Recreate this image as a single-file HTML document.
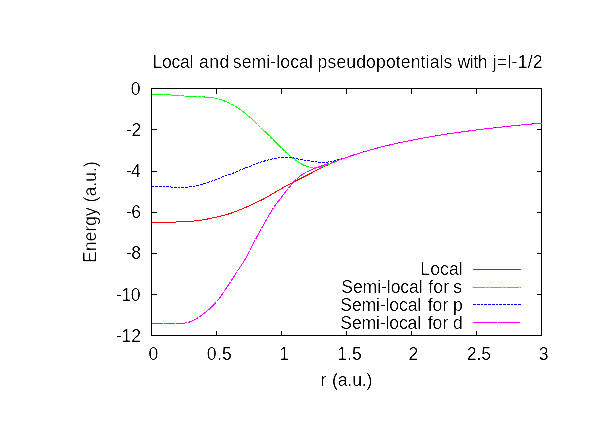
<!DOCTYPE html>
<html><head><meta charset="utf-8"><title>Local and semi-local pseudopotentials</title>
<style>
html,body{margin:0;padding:0;background:#fff;overflow:hidden;}
svg{display:block;}
text{font-family:"Liberation Sans", sans-serif;font-size:17.6px;fill:#000;filter:url(#tf);}
.ax{stroke:#000;stroke-width:1;fill:none;shape-rendering:crispEdges;}
.c{fill:none;stroke-width:1;shape-rendering:crispEdges;stroke-linejoin:round;}
</style></head><body>
<svg width="612" height="428" viewBox="0 0 612 428">
<defs><filter id="tf" x="-5%" y="-20%" width="110%" height="140%" color-interpolation-filters="sRGB"><feComponentTransfer><feFuncA type="linear" slope="2.5" intercept="-1.0"/></feComponentTransfer></filter></defs>
<rect width="612" height="428" fill="#fff"/>
<path class="ax" d="M151.5,88.5h5M541.5,88.5h-5M151.5,335.5v-5M151.5,88.5v5M151.5,129.5h5M541.5,129.5h-5M216.5,335.5v-5M216.5,88.5v5M151.5,171.5h5M541.5,171.5h-5M281.5,335.5v-5M281.5,88.5v5M151.5,212.5h5M541.5,212.5h-5M346.5,335.5v-5M346.5,88.5v5M151.5,253.5h5M541.5,253.5h-5M411.5,335.5v-5M411.5,88.5v5M151.5,294.5h5M541.5,294.5h-5M476.5,335.5v-5M476.5,88.5v5M151.5,335.5h5M541.5,335.5h-5M541.5,335.5v-5M541.5,88.5v5"/>
<rect class="ax" x="151.5" y="88.5" width="390.0" height="247.0"/>
<polyline class="c" stroke="#f00" points="151.5,222.40 152.5,222.40 153.5,222.40 154.5,222.39 155.5,222.39 156.5,222.38 157.5,222.37 158.5,222.36 159.5,222.35 160.5,222.33 161.5,222.32 162.5,222.30 163.5,222.29 164.5,222.27 165.5,222.25 166.5,222.23 167.5,222.21 168.5,222.19 169.5,222.17 170.5,222.15 171.5,222.13 172.5,222.11 173.5,222.09 174.5,222.06 175.5,222.03 176.5,222.00 177.5,221.96 178.5,221.92 179.5,221.88 180.5,221.84 181.5,221.79 182.5,221.74 183.5,221.69 184.5,221.63 185.5,221.57 186.5,221.51 187.5,221.45 188.5,221.38 189.5,221.32 190.5,221.25 191.5,221.17 192.5,221.10 193.5,221.02 194.5,220.93 195.5,220.82 196.5,220.71 197.5,220.58 198.5,220.46 199.5,220.32 200.5,220.18 201.5,220.03 202.5,219.89 203.5,219.73 204.5,219.56 205.5,219.39 206.5,219.20 207.5,219.01 208.5,218.81 209.5,218.60 210.5,218.39 211.5,218.18 212.5,217.96 213.5,217.74 214.5,217.52 215.5,217.30 216.5,217.08 217.5,216.86 218.5,216.63 219.5,216.40 220.5,216.17 221.5,215.93 222.5,215.68 223.5,215.43 224.5,215.17 225.5,214.90 226.5,214.62 227.5,214.32 228.5,214.01 229.5,213.69 230.5,213.35 231.5,213.01 232.5,212.65 233.5,212.28 234.5,211.90 235.5,211.52 236.5,211.14 237.5,210.75 238.5,210.36 239.5,209.97 240.5,209.56 241.5,209.15 242.5,208.73 243.5,208.30 244.5,207.87 245.5,207.43 246.5,206.99 247.5,206.54 248.5,206.09 249.5,205.64 250.5,205.18 251.5,204.73 252.5,204.27 253.5,203.81 254.5,203.34 255.5,202.87 256.5,202.40 257.5,201.92 258.5,201.44 259.5,200.95 260.5,200.46 261.5,199.96 262.5,199.46 263.5,198.95 264.5,198.43 265.5,197.90 266.5,197.36 267.5,196.80 268.5,196.23 269.5,195.65 270.5,195.06 271.5,194.46 272.5,193.86 273.5,193.25 274.5,192.64 275.5,192.04 276.5,191.44 277.5,190.84 278.5,190.26 279.5,189.68 280.5,189.12 281.5,188.56 282.5,188.01 283.5,187.47 284.5,186.93 285.5,186.39 286.5,185.85 287.5,185.32 288.5,184.79 289.5,184.26 290.5,183.73 291.5,183.20 292.5,182.67 293.5,182.15 294.5,181.62 295.5,181.10 296.5,180.58 297.5,180.06 298.5,179.54 299.5,179.03 300.5,178.52 301.5,178.01 302.5,177.50 303.5,177.00 304.5,176.51 305.5,176.02 306.5,175.54 307.5,175.05 308.5,174.56 309.5,174.06 310.5,173.54 311.5,173.01 312.5,172.46 313.5,171.90 314.5,171.34 315.5,170.78 316.5,170.23 317.5,169.68 318.5,169.16 319.5,168.65 320.5,168.16 321.5,167.69 322.5,167.24 323.5,166.79 324.5,166.35 325.5,165.92 326.5,165.48 327.5,165.04 328.5,164.60 329.5,164.16 330.5,163.72 331.5,163.28 332.5,162.85 333.5,162.41 334.5,161.98 335.5,161.56 336.5,161.15 337.5,160.74 338.5,160.34 339.5,159.96 340.5,159.59 341.5,159.22 342.5,158.85 343.5,158.48 344.5,158.12 345.5,157.76 346.5,157.41 347.5,157.06 348.5,156.71 349.5,156.37 350.5,156.03 351.5,155.70 352.5,155.36 353.5,155.03 354.5,154.71 355.5,154.38 356.5,154.06 357.5,153.75 358.5,153.43 359.5,153.12 360.5,152.82 361.5,152.51 362.5,152.21 363.5,151.91 364.5,151.61 365.5,151.32 366.5,151.03 367.5,150.74 368.5,150.46 369.5,150.17 370.5,149.89 371.5,149.61 372.5,149.34 373.5,149.07 374.5,148.80 375.5,148.53 376.5,148.26 377.5,148.00 378.5,147.74 379.5,147.48 380.5,147.22 381.5,146.97 382.5,146.72 383.5,146.47 384.5,146.22 385.5,145.98 386.5,145.73 387.5,145.49 388.5,145.25 389.5,145.01 390.5,144.78 391.5,144.55 392.5,144.32 393.5,144.09 394.5,143.86 395.5,143.63 396.5,143.41 397.5,143.19 398.5,142.97 399.5,142.75 400.5,142.53 401.5,142.32 402.5,142.10 403.5,141.89 404.5,141.68 405.5,141.47 406.5,141.27 407.5,141.06 408.5,140.86 409.5,140.66 410.5,140.46 411.5,140.26 412.5,140.06 413.5,139.87 414.5,139.67 415.5,139.48 416.5,139.29 417.5,139.10 418.5,138.91 419.5,138.72 420.5,138.54 421.5,138.35 422.5,138.17 423.5,137.99 424.5,137.81 425.5,137.63 426.5,137.45 427.5,137.28 428.5,137.10 429.5,136.93 430.5,136.75 431.5,136.58 432.5,136.41 433.5,136.24 434.5,136.08 435.5,135.91 436.5,135.74 437.5,135.58 438.5,135.42 439.5,135.26 440.5,135.09 441.5,134.93 442.5,134.78 443.5,134.62 444.5,134.46 445.5,134.31 446.5,134.15 447.5,134.00 448.5,133.85 449.5,133.70 450.5,133.55 451.5,133.40 452.5,133.25 453.5,133.10 454.5,132.96 455.5,132.81 456.5,132.67 457.5,132.52 458.5,132.38 459.5,132.24 460.5,132.10 461.5,131.96 462.5,131.82 463.5,131.68 464.5,131.54 465.5,131.41 466.5,131.27 467.5,131.14 468.5,131.01 469.5,130.87 470.5,130.74 471.5,130.61 472.5,130.48 473.5,130.35 474.5,130.22 475.5,130.09 476.5,129.97 477.5,129.84 478.5,129.71 479.5,129.59 480.5,129.47 481.5,129.34 482.5,129.22 483.5,129.10 484.5,128.98 485.5,128.86 486.5,128.74 487.5,128.62 488.5,128.50 489.5,128.38 490.5,128.27 491.5,128.15 492.5,128.04 493.5,127.92 494.5,127.81 495.5,127.69 496.5,127.58 497.5,127.47 498.5,127.36 499.5,127.25 500.5,127.14 501.5,127.03 502.5,126.92 503.5,126.81 504.5,126.70 505.5,126.59 506.5,126.49 507.5,126.38 508.5,126.28 509.5,126.17 510.5,126.07 511.5,125.96 512.5,125.86 513.5,125.76 514.5,125.66 515.5,125.56 516.5,125.46 517.5,125.36 518.5,125.26 519.5,125.16 520.5,125.06 521.5,124.96 522.5,124.86 523.5,124.77 524.5,124.67 525.5,124.57 526.5,124.48 527.5,124.38 528.5,124.29 529.5,124.19 530.5,124.10 531.5,124.01 532.5,123.92 533.5,123.82 534.5,123.73 535.5,123.64 536.5,123.55 537.5,123.46 538.5,123.37 539.5,123.28 540.5,123.19 541.5,123.11"/>
<polyline class="c" stroke="#0f0" stroke-dasharray="12 1 3 1" points="151.5,94.60 152.5,94.60 153.5,94.61 154.5,94.61 155.5,94.62 156.5,94.64 157.5,94.65 158.5,94.67 159.5,94.69 160.5,94.71 161.5,94.74 162.5,94.76 163.5,94.79 164.5,94.82 165.5,94.84 166.5,94.87 167.5,94.91 168.5,94.94 169.5,94.97 170.5,95.00 171.5,95.04 172.5,95.09 173.5,95.15 174.5,95.21 175.5,95.28 176.5,95.36 177.5,95.44 178.5,95.52 179.5,95.60 180.5,95.68 181.5,95.76 182.5,95.83 183.5,95.90 184.5,95.97 185.5,96.03 186.5,96.08 187.5,96.14 188.5,96.19 189.5,96.24 190.5,96.28 191.5,96.33 192.5,96.37 193.5,96.42 194.5,96.46 195.5,96.50 196.5,96.55 197.5,96.60 198.5,96.65 199.5,96.70 200.5,96.75 201.5,96.81 202.5,96.87 203.5,96.94 204.5,97.01 205.5,97.08 206.5,97.17 207.5,97.26 208.5,97.36 209.5,97.46 210.5,97.58 211.5,97.70 212.5,97.82 213.5,97.96 214.5,98.10 215.5,98.26 216.5,98.45 217.5,98.65 218.5,98.88 219.5,99.13 220.5,99.44 221.5,99.79 222.5,100.18 223.5,100.60 224.5,101.03 225.5,101.48 226.5,101.92 227.5,102.37 228.5,102.82 229.5,103.28 230.5,103.76 231.5,104.25 232.5,104.77 233.5,105.30 234.5,105.86 235.5,106.44 236.5,107.05 237.5,107.70 238.5,108.39 239.5,109.09 240.5,109.81 241.5,110.55 242.5,111.30 243.5,112.05 244.5,112.81 245.5,113.59 246.5,114.39 247.5,115.20 248.5,116.03 249.5,116.87 250.5,117.74 251.5,118.62 252.5,119.53 253.5,120.47 254.5,121.42 255.5,122.39 256.5,123.37 257.5,124.36 258.5,125.35 259.5,126.34 260.5,127.32 261.5,128.30 262.5,129.27 263.5,130.24 264.5,131.21 265.5,132.19 266.5,133.16 267.5,134.14 268.5,135.12 269.5,136.10 270.5,137.07 271.5,138.05 272.5,139.04 273.5,140.02 274.5,141.00 275.5,141.99 276.5,142.98 277.5,143.98 278.5,144.98 279.5,145.97 280.5,146.96 281.5,147.94 282.5,148.91 283.5,149.87 284.5,150.84 285.5,151.81 286.5,152.77 287.5,153.72 288.5,154.64 289.5,155.53 290.5,156.38 291.5,157.18 292.5,157.94 293.5,158.68 294.5,159.39 295.5,160.08 296.5,160.75 297.5,161.40 298.5,162.05 299.5,162.71 300.5,163.36 301.5,163.97 302.5,164.53 303.5,165.00 304.5,165.39 305.5,165.76 306.5,166.13 307.5,166.47 308.5,166.77 309.5,167.03 310.5,167.23 311.5,167.36 312.5,167.41 313.5,167.43 314.5,167.45 315.5,167.47 316.5,167.49 317.5,167.49 318.5,167.50 319.5,167.46 320.5,167.22 321.5,166.85 322.5,166.50 323.5,166.20 324.5,165.91 325.5,165.60 326.5,165.27 327.5,164.92 328.5,164.54 329.5,164.14 330.5,163.72 331.5,163.31 332.5,162.90 333.5,162.48 334.5,162.06 335.5,161.63 336.5,161.21 337.5,160.79 338.5,160.38 339.5,159.97 340.5,159.59 341.5,159.22 342.5,158.85 343.5,158.48 344.5,158.12 345.5,157.76 346.5,157.41 347.5,157.06 348.5,156.71 349.5,156.37 350.5,156.03 351.5,155.70 352.5,155.36 353.5,155.03 354.5,154.71 355.5,154.38 356.5,154.06 357.5,153.75 358.5,153.43 359.5,153.12 360.5,152.82 361.5,152.51 362.5,152.21 363.5,151.91 364.5,151.61 365.5,151.32 366.5,151.03 367.5,150.74 368.5,150.46 369.5,150.17 370.5,149.89 371.5,149.61 372.5,149.34 373.5,149.07 374.5,148.80 375.5,148.53 376.5,148.26 377.5,148.00 378.5,147.74 379.5,147.48 380.5,147.22 381.5,146.97 382.5,146.72 383.5,146.47 384.5,146.22 385.5,145.98 386.5,145.73 387.5,145.49 388.5,145.25 389.5,145.01 390.5,144.78 391.5,144.55 392.5,144.32 393.5,144.09 394.5,143.86 395.5,143.63 396.5,143.41 397.5,143.19 398.5,142.97 399.5,142.75 400.5,142.53 401.5,142.32 402.5,142.10 403.5,141.89 404.5,141.68 405.5,141.47 406.5,141.27 407.5,141.06 408.5,140.86 409.5,140.66 410.5,140.46 411.5,140.26 412.5,140.06 413.5,139.87 414.5,139.67 415.5,139.48 416.5,139.29 417.5,139.10 418.5,138.91 419.5,138.72 420.5,138.54 421.5,138.35 422.5,138.17 423.5,137.99 424.5,137.81 425.5,137.63 426.5,137.45 427.5,137.28 428.5,137.10 429.5,136.93 430.5,136.75 431.5,136.58 432.5,136.41 433.5,136.24 434.5,136.08 435.5,135.91 436.5,135.74 437.5,135.58 438.5,135.42 439.5,135.26 440.5,135.09 441.5,134.93 442.5,134.78 443.5,134.62 444.5,134.46 445.5,134.31 446.5,134.15 447.5,134.00 448.5,133.85 449.5,133.70 450.5,133.55 451.5,133.40 452.5,133.25 453.5,133.10 454.5,132.96 455.5,132.81 456.5,132.67 457.5,132.52 458.5,132.38 459.5,132.24 460.5,132.10 461.5,131.96 462.5,131.82 463.5,131.68 464.5,131.54 465.5,131.41 466.5,131.27 467.5,131.14 468.5,131.01 469.5,130.87 470.5,130.74 471.5,130.61 472.5,130.48 473.5,130.35 474.5,130.22 475.5,130.09 476.5,129.97 477.5,129.84 478.5,129.71 479.5,129.59 480.5,129.47 481.5,129.34 482.5,129.22 483.5,129.10 484.5,128.98 485.5,128.86 486.5,128.74 487.5,128.62 488.5,128.50 489.5,128.38 490.5,128.27 491.5,128.15 492.5,128.04 493.5,127.92 494.5,127.81 495.5,127.69 496.5,127.58 497.5,127.47 498.5,127.36 499.5,127.25 500.5,127.14 501.5,127.03 502.5,126.92 503.5,126.81 504.5,126.70 505.5,126.59 506.5,126.49 507.5,126.38 508.5,126.28 509.5,126.17 510.5,126.07 511.5,125.96 512.5,125.86 513.5,125.76 514.5,125.66 515.5,125.56 516.5,125.46 517.5,125.36 518.5,125.26 519.5,125.16 520.5,125.06 521.5,124.96 522.5,124.86 523.5,124.77 524.5,124.67 525.5,124.57 526.5,124.48 527.5,124.38 528.5,124.29 529.5,124.19 530.5,124.10 531.5,124.01 532.5,123.92 533.5,123.82 534.5,123.73 535.5,123.64 536.5,123.55 537.5,123.46 538.5,123.37 539.5,123.28 540.5,123.19 541.5,123.11"/>
<polyline class="c" stroke="#00f" stroke-dasharray="2.75 1" points="151.5,186.30 152.5,186.30 153.5,186.30 154.5,186.30 155.5,186.31 156.5,186.31 157.5,186.32 158.5,186.32 159.5,186.33 160.5,186.34 161.5,186.34 162.5,186.35 163.5,186.36 164.5,186.38 165.5,186.39 166.5,186.40 167.5,186.45 168.5,186.56 169.5,186.70 170.5,186.85 171.5,187.01 172.5,187.15 173.5,187.25 174.5,187.30 175.5,187.32 176.5,187.33 177.5,187.35 178.5,187.36 179.5,187.37 180.5,187.38 181.5,187.39 182.5,187.40 183.5,187.40 184.5,187.40 185.5,187.37 186.5,187.29 187.5,187.18 188.5,187.04 189.5,186.89 190.5,186.72 191.5,186.56 192.5,186.40 193.5,186.25 194.5,186.09 195.5,185.92 196.5,185.74 197.5,185.54 198.5,185.33 199.5,185.11 200.5,184.85 201.5,184.57 202.5,184.27 203.5,183.96 204.5,183.63 205.5,183.30 206.5,182.96 207.5,182.63 208.5,182.30 209.5,181.96 210.5,181.62 211.5,181.27 212.5,180.91 213.5,180.55 214.5,180.18 215.5,179.80 216.5,179.41 217.5,179.00 218.5,178.59 219.5,178.16 220.5,177.74 221.5,177.33 222.5,176.92 223.5,176.54 224.5,176.17 225.5,175.83 226.5,175.50 227.5,175.18 228.5,174.85 229.5,174.52 230.5,174.18 231.5,173.81 232.5,173.42 233.5,173.00 234.5,172.56 235.5,172.11 236.5,171.65 237.5,171.19 238.5,170.74 239.5,170.31 240.5,169.90 241.5,169.51 242.5,169.13 243.5,168.76 244.5,168.39 245.5,168.03 246.5,167.66 247.5,167.29 248.5,166.91 249.5,166.52 250.5,166.11 251.5,165.68 252.5,165.22 253.5,164.76 254.5,164.31 255.5,163.86 256.5,163.44 257.5,163.05 258.5,162.70 259.5,162.38 260.5,162.08 261.5,161.79 262.5,161.52 263.5,161.25 264.5,160.99 265.5,160.73 266.5,160.47 267.5,160.21 268.5,159.94 269.5,159.67 270.5,159.41 271.5,159.15 272.5,158.92 273.5,158.70 274.5,158.50 275.5,158.31 276.5,158.11 277.5,157.91 278.5,157.73 279.5,157.57 280.5,157.43 281.5,157.34 282.5,157.30 283.5,157.30 284.5,157.31 285.5,157.33 286.5,157.35 287.5,157.37 288.5,157.41 289.5,157.44 290.5,157.48 291.5,157.54 292.5,157.67 293.5,157.85 294.5,158.08 295.5,158.33 296.5,158.59 297.5,158.85 298.5,159.08 299.5,159.27 300.5,159.46 301.5,159.63 302.5,159.80 303.5,159.97 304.5,160.14 305.5,160.30 306.5,160.47 307.5,160.63 308.5,160.81 309.5,160.99 310.5,161.17 311.5,161.34 312.5,161.51 313.5,161.66 314.5,161.80 315.5,161.90 316.5,161.99 317.5,162.08 318.5,162.16 319.5,162.24 320.5,162.30 321.5,162.35 322.5,162.39 323.5,162.40 324.5,162.38 325.5,162.32 326.5,162.22 327.5,162.10 328.5,161.95 329.5,161.79 330.5,161.62 331.5,161.45 332.5,161.27 333.5,161.05 334.5,160.80 335.5,160.52 336.5,160.23 337.5,159.92 338.5,159.63 339.5,159.34 340.5,159.07 341.5,158.81 342.5,158.55 343.5,158.30 344.5,158.03 345.5,157.74 346.5,157.42 347.5,157.06 348.5,156.71 349.5,156.37 350.5,156.03 351.5,155.70 352.5,155.36 353.5,155.03 354.5,154.71 355.5,154.38 356.5,154.06 357.5,153.75 358.5,153.43 359.5,153.12 360.5,152.82 361.5,152.51 362.5,152.21 363.5,151.91 364.5,151.61 365.5,151.32 366.5,151.03 367.5,150.74 368.5,150.46 369.5,150.17 370.5,149.89 371.5,149.61 372.5,149.34 373.5,149.07 374.5,148.80 375.5,148.53 376.5,148.26 377.5,148.00 378.5,147.74 379.5,147.48 380.5,147.22 381.5,146.97 382.5,146.72 383.5,146.47 384.5,146.22 385.5,145.98 386.5,145.73 387.5,145.49 388.5,145.25 389.5,145.01 390.5,144.78 391.5,144.55 392.5,144.32 393.5,144.09 394.5,143.86 395.5,143.63 396.5,143.41 397.5,143.19 398.5,142.97 399.5,142.75 400.5,142.53 401.5,142.32 402.5,142.10 403.5,141.89 404.5,141.68 405.5,141.47 406.5,141.27 407.5,141.06 408.5,140.86 409.5,140.66 410.5,140.46 411.5,140.26 412.5,140.06 413.5,139.87 414.5,139.67 415.5,139.48 416.5,139.29 417.5,139.10 418.5,138.91 419.5,138.72 420.5,138.54 421.5,138.35 422.5,138.17 423.5,137.99 424.5,137.81 425.5,137.63 426.5,137.45 427.5,137.28 428.5,137.10 429.5,136.93 430.5,136.75 431.5,136.58 432.5,136.41 433.5,136.24 434.5,136.08 435.5,135.91 436.5,135.74 437.5,135.58 438.5,135.42 439.5,135.26 440.5,135.09 441.5,134.93 442.5,134.78 443.5,134.62 444.5,134.46 445.5,134.31 446.5,134.15 447.5,134.00 448.5,133.85 449.5,133.70 450.5,133.55 451.5,133.40 452.5,133.25 453.5,133.10 454.5,132.96 455.5,132.81 456.5,132.67 457.5,132.52 458.5,132.38 459.5,132.24 460.5,132.10 461.5,131.96 462.5,131.82 463.5,131.68 464.5,131.54 465.5,131.41 466.5,131.27 467.5,131.14 468.5,131.01 469.5,130.87 470.5,130.74 471.5,130.61 472.5,130.48 473.5,130.35 474.5,130.22 475.5,130.09 476.5,129.97 477.5,129.84 478.5,129.71 479.5,129.59 480.5,129.47 481.5,129.34 482.5,129.22 483.5,129.10 484.5,128.98 485.5,128.86 486.5,128.74 487.5,128.62 488.5,128.50 489.5,128.38 490.5,128.27 491.5,128.15 492.5,128.04 493.5,127.92 494.5,127.81 495.5,127.69 496.5,127.58 497.5,127.47 498.5,127.36 499.5,127.25 500.5,127.14 501.5,127.03 502.5,126.92 503.5,126.81 504.5,126.70 505.5,126.59 506.5,126.49 507.5,126.38 508.5,126.28 509.5,126.17 510.5,126.07 511.5,125.96 512.5,125.86 513.5,125.76 514.5,125.66 515.5,125.56 516.5,125.46 517.5,125.36 518.5,125.26 519.5,125.16 520.5,125.06 521.5,124.96 522.5,124.86 523.5,124.77 524.5,124.67 525.5,124.57 526.5,124.48 527.5,124.38 528.5,124.29 529.5,124.19 530.5,124.10 531.5,124.01 532.5,123.92 533.5,123.82 534.5,123.73 535.5,123.64 536.5,123.55 537.5,123.46 538.5,123.37 539.5,123.28 540.5,123.19 541.5,123.11"/>
<polyline class="c" stroke="#f0f" stroke-dasharray="11 1.2" points="151.5,323.50 152.5,323.50 153.5,323.50 154.5,323.50 155.5,323.50 156.5,323.50 157.5,323.50 158.5,323.50 159.5,323.50 160.5,323.50 161.5,323.50 162.5,323.50 163.5,323.50 164.5,323.50 165.5,323.50 166.5,323.50 167.5,323.50 168.5,323.50 169.5,323.50 170.5,323.50 171.5,323.50 172.5,323.49 173.5,323.49 174.5,323.48 175.5,323.46 176.5,323.45 177.5,323.43 178.5,323.41 179.5,323.39 180.5,323.36 181.5,323.34 182.5,323.31 183.5,323.25 184.5,323.14 185.5,322.97 186.5,322.77 187.5,322.54 188.5,322.30 189.5,322.01 190.5,321.64 191.5,321.20 192.5,320.72 193.5,320.21 194.5,319.67 195.5,319.14 196.5,318.57 197.5,317.95 198.5,317.31 199.5,316.63 200.5,315.93 201.5,315.21 202.5,314.48 203.5,313.75 204.5,313.01 205.5,312.25 206.5,311.47 207.5,310.66 208.5,309.81 209.5,308.93 210.5,308.01 211.5,307.04 212.5,306.04 213.5,305.00 214.5,303.94 215.5,302.86 216.5,301.75 217.5,300.61 218.5,299.42 219.5,298.16 220.5,296.82 221.5,295.38 222.5,293.86 223.5,292.31 224.5,290.73 225.5,289.17 226.5,287.65 227.5,286.16 228.5,284.67 229.5,283.18 230.5,281.70 231.5,280.20 232.5,278.70 233.5,277.18 234.5,275.65 235.5,274.12 236.5,272.58 237.5,271.04 238.5,269.50 239.5,267.97 240.5,266.45 241.5,264.98 242.5,263.53 243.5,262.05 244.5,260.47 245.5,258.73 246.5,256.80 247.5,254.79 248.5,252.79 249.5,250.86 250.5,248.94 251.5,247.03 252.5,245.12 253.5,243.22 254.5,241.33 255.5,239.44 256.5,237.55 257.5,235.69 258.5,233.83 259.5,232.00 260.5,230.19 261.5,228.38 262.5,226.59 263.5,224.81 264.5,223.05 265.5,221.30 266.5,219.55 267.5,217.79 268.5,216.02 269.5,214.28 270.5,212.56 271.5,210.89 272.5,209.28 273.5,207.75 274.5,206.30 275.5,204.91 276.5,203.58 277.5,202.28 278.5,201.00 279.5,199.71 280.5,198.41 281.5,197.10 282.5,195.80 283.5,194.51 284.5,193.23 285.5,191.95 286.5,190.68 287.5,189.42 288.5,188.18 289.5,186.96 290.5,185.76 291.5,184.57 292.5,183.39 293.5,182.23 294.5,181.12 295.5,180.09 296.5,179.13 297.5,178.21 298.5,177.33 299.5,176.48 300.5,175.68 301.5,174.94 302.5,174.26 303.5,173.64 304.5,173.08 305.5,172.56 306.5,172.08 307.5,171.60 308.5,171.13 309.5,170.68 310.5,170.24 311.5,169.80 312.5,169.38 313.5,168.97 314.5,168.56 315.5,168.15 316.5,167.75 317.5,167.36 318.5,166.98 319.5,166.61 320.5,166.26 321.5,165.92 322.5,165.60 323.5,165.29 324.5,164.97 325.5,164.66 326.5,164.34 327.5,164.03 328.5,163.72 329.5,163.41 330.5,163.11 331.5,162.80 332.5,162.49 333.5,162.17 334.5,161.84 335.5,161.49 336.5,161.13 337.5,160.73 338.5,160.35 339.5,159.97 340.5,159.59 341.5,159.22 342.5,158.85 343.5,158.48 344.5,158.12 345.5,157.76 346.5,157.41 347.5,157.06 348.5,156.71 349.5,156.37 350.5,156.03 351.5,155.70 352.5,155.36 353.5,155.03 354.5,154.71 355.5,154.38 356.5,154.06 357.5,153.75 358.5,153.43 359.5,153.12 360.5,152.82 361.5,152.51 362.5,152.21 363.5,151.91 364.5,151.61 365.5,151.32 366.5,151.03 367.5,150.74 368.5,150.46 369.5,150.17 370.5,149.89 371.5,149.61 372.5,149.34 373.5,149.07 374.5,148.80 375.5,148.53 376.5,148.26 377.5,148.00 378.5,147.74 379.5,147.48 380.5,147.22 381.5,146.97 382.5,146.72 383.5,146.47 384.5,146.22 385.5,145.98 386.5,145.73 387.5,145.49 388.5,145.25 389.5,145.01 390.5,144.78 391.5,144.55 392.5,144.32 393.5,144.09 394.5,143.86 395.5,143.63 396.5,143.41 397.5,143.19 398.5,142.97 399.5,142.75 400.5,142.53 401.5,142.32 402.5,142.10 403.5,141.89 404.5,141.68 405.5,141.47 406.5,141.27 407.5,141.06 408.5,140.86 409.5,140.66 410.5,140.46 411.5,140.26 412.5,140.06 413.5,139.87 414.5,139.67 415.5,139.48 416.5,139.29 417.5,139.10 418.5,138.91 419.5,138.72 420.5,138.54 421.5,138.35 422.5,138.17 423.5,137.99 424.5,137.81 425.5,137.63 426.5,137.45 427.5,137.28 428.5,137.10 429.5,136.93 430.5,136.75 431.5,136.58 432.5,136.41 433.5,136.24 434.5,136.08 435.5,135.91 436.5,135.74 437.5,135.58 438.5,135.42 439.5,135.26 440.5,135.09 441.5,134.93 442.5,134.78 443.5,134.62 444.5,134.46 445.5,134.31 446.5,134.15 447.5,134.00 448.5,133.85 449.5,133.70 450.5,133.55 451.5,133.40 452.5,133.25 453.5,133.10 454.5,132.96 455.5,132.81 456.5,132.67 457.5,132.52 458.5,132.38 459.5,132.24 460.5,132.10 461.5,131.96 462.5,131.82 463.5,131.68 464.5,131.54 465.5,131.41 466.5,131.27 467.5,131.14 468.5,131.01 469.5,130.87 470.5,130.74 471.5,130.61 472.5,130.48 473.5,130.35 474.5,130.22 475.5,130.09 476.5,129.97 477.5,129.84 478.5,129.71 479.5,129.59 480.5,129.47 481.5,129.34 482.5,129.22 483.5,129.10 484.5,128.98 485.5,128.86 486.5,128.74 487.5,128.62 488.5,128.50 489.5,128.38 490.5,128.27 491.5,128.15 492.5,128.04 493.5,127.92 494.5,127.81 495.5,127.69 496.5,127.58 497.5,127.47 498.5,127.36 499.5,127.25 500.5,127.14 501.5,127.03 502.5,126.92 503.5,126.81 504.5,126.70 505.5,126.59 506.5,126.49 507.5,126.38 508.5,126.28 509.5,126.17 510.5,126.07 511.5,125.96 512.5,125.86 513.5,125.76 514.5,125.66 515.5,125.56 516.5,125.46 517.5,125.36 518.5,125.26 519.5,125.16 520.5,125.06 521.5,124.96 522.5,124.86 523.5,124.77 524.5,124.67 525.5,124.57 526.5,124.48 527.5,124.38 528.5,124.29 529.5,124.19 530.5,124.10 531.5,124.01 532.5,123.92 533.5,123.82 534.5,123.73 535.5,123.64 536.5,123.55 537.5,123.46 538.5,123.37 539.5,123.28 540.5,123.19 541.5,123.11"/>
<path class="c" stroke="#f00" d="M473,269.5H521"/>
<path class="c" stroke="#0f0" stroke-dasharray="12 1 3 1" d="M473,287.5H521"/>
<path class="c" stroke="#00f" stroke-dasharray="2.75 1" d="M473,304.5H521"/>
<path class="c" stroke="#f0f" stroke-dasharray="24 1 22 1" d="M473,322.5H521"/>
<text><tspan x="152.42" y="68" textLength="41.02" lengthAdjust="spacing">Local</tspan> <tspan x="198.96" y="68" textLength="30.45" lengthAdjust="spacing">and</tspan> <tspan x="232.79" y="68" textLength="80.03" lengthAdjust="spacing">semi-local</tspan> <tspan x="317.59" y="68" textLength="134.77" lengthAdjust="spacing">pseudopotentials</tspan> <tspan x="457.40" y="68" textLength="30.15" lengthAdjust="spacing">with</tspan> <tspan x="492.80" y="68" textLength="49.86" lengthAdjust="spacing">j=l-1/2</tspan></text>
<text><tspan x="320.42" y="386" textLength="6.21" lengthAdjust="spacing">r</tspan> <tspan x="331.91" y="386" textLength="40.55" lengthAdjust="spacing">(a.u.)</tspan></text>
<text><tspan x="420.37" y="275" textLength="42.40" lengthAdjust="spacing">Local</tspan></text>
<text><tspan x="341.21" y="293" textLength="81.52" lengthAdjust="spacing">Semi-local</tspan> <tspan x="428.23" y="293" textLength="20.93" lengthAdjust="spacing">for</tspan> <tspan x="453.24" y="293" textLength="9.32" lengthAdjust="spacing">s</tspan></text>
<text><tspan x="340.31" y="310.8" textLength="80.91" lengthAdjust="spacing">Semi-local</tspan> <tspan x="427.73" y="310.8" textLength="20.51" lengthAdjust="spacing">for</tspan> <tspan x="452.99" y="310.8" textLength="9.92" lengthAdjust="spacing">p</tspan></text>
<text><tspan x="340.32" y="328.5" textLength="80.81" lengthAdjust="spacing">Semi-local</tspan> <tspan x="427.73" y="328.5" textLength="20.51" lengthAdjust="spacing">for</tspan> <tspan x="452.94" y="328.5" textLength="10.38" lengthAdjust="spacing">d</tspan></text>
<text><tspan x="130.64" y="95" textLength="10.38" lengthAdjust="spacing">0</tspan></text>
<text><tspan x="126.14" y="136" textLength="15.09" lengthAdjust="spacing">-2</tspan></text>
<text><tspan x="126.16" y="177" textLength="14.72" lengthAdjust="spacing">-4</tspan></text>
<text><tspan x="126.15" y="218" textLength="14.94" lengthAdjust="spacing">-6</tspan></text>
<text><tspan x="126.14" y="259" textLength="14.99" lengthAdjust="spacing">-8</tspan></text>
<text><tspan x="115.93" y="301" textLength="24.72" lengthAdjust="spacing">-10</tspan></text>
<text><tspan x="115.91" y="342" textLength="25.12" lengthAdjust="spacing">-12</tspan></text>
<text><tspan x="148.44" y="360" textLength="10.38" lengthAdjust="spacing">0</tspan></text>
<text><tspan x="206.77" y="360" textLength="25.12" lengthAdjust="spacing">0.5</tspan></text>
<text><tspan x="279.28" y="360" textLength="9.21" lengthAdjust="spacing">1</tspan></text>
<text><tspan x="337.18" y="360" textLength="24.70" lengthAdjust="spacing">1.5</tspan></text>
<text><tspan x="408.44" y="360" textLength="10.38" lengthAdjust="spacing">2</tspan></text>
<text><tspan x="466.81" y="360" textLength="24.26" lengthAdjust="spacing">2.5</tspan></text>
<text><tspan x="538.84" y="360" textLength="10.38" lengthAdjust="spacing">3</tspan></text>
<text transform="translate(96.2,212.2) rotate(-90)" text-anchor="middle">Energy (a.u.)</text>
</svg></body></html>
